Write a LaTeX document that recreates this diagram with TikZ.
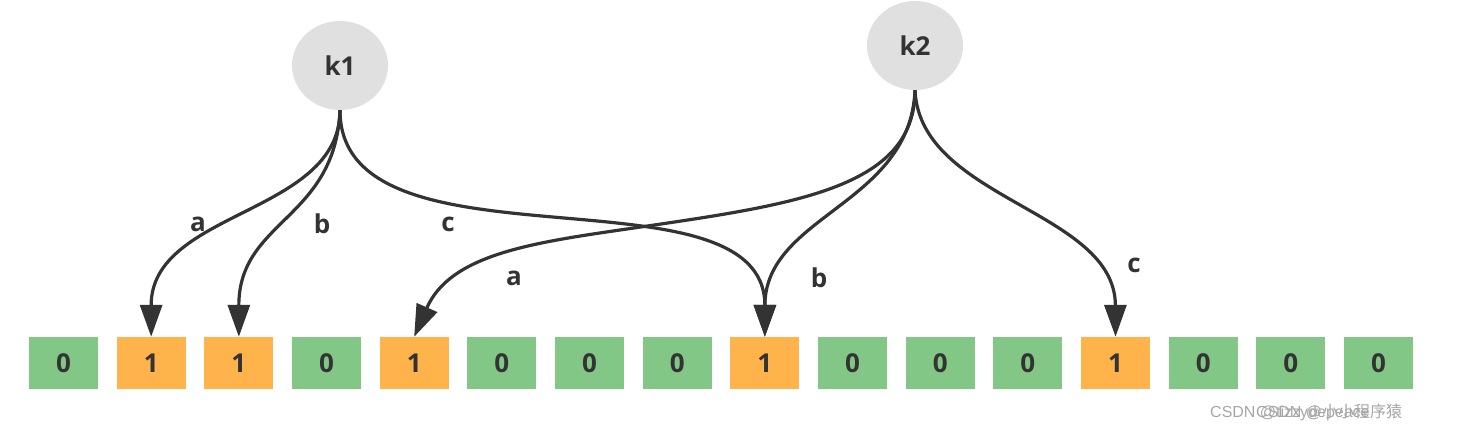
\documentclass[tikz,border=0pt]{standalone}
\usepackage{fontspec}
\setmainfont{Open Sans}
\newfontfamily\wmfont{Liberation Sans}
\newfontfamily\wmcjk{Noto Sans CJK SC}
\usetikzlibrary{shapes.geometric,arrows.meta}
\definecolor{cellgreen}{HTML}{82C785}
\definecolor{cellorange}{HTML}{FFB34A}
\definecolor{keygray}{HTML}{E0E0E0}
\definecolor{ink}{HTML}{333333}
\tikzset{
  keynode/.style={ellipse, fill=keygray, minimum width=96pt, minimum height=89pt, inner sep=0pt,
    text=ink, font=\fontsize{26}{30}\selectfont\bfseries},
  cell/.style={rectangle, minimum width=69pt, minimum height=52pt, inner sep=0pt,
    text=ink, font=\fontsize{26}{30}\selectfont\bfseries},
  zero/.style={cell, fill=cellgreen},
  one/.style={cell, fill=cellorange},
  edgelbl/.style={text=ink, font=\fontsize{26}{30}\selectfont\bfseries, inner sep=0pt},
  edge/.style={draw=ink, line width=3.2pt, -{Triangle[length=32pt,width=22pt]}},
}
\begin{document}
\begin{tikzpicture}[x=1pt,y=-1pt]
\useasboundingbox (0,0) rectangle (1477,431);
\node[keynode] (k1) at (340,65.5) {k1};
\node[keynode] (k2) at (915,45.5) {k2};
\foreach \v [count=\i from 0] in {0,1,1,0,1,0,0,0,1,0,0,0,1,0,0,0}{
  \ifnum\v=1
    \node[one] (b\i) at (63.5+87.67*\i,363) {\v};
  \else
    \node[zero] (b\i) at (63.5+87.67*\i,363) {\v};
  \fi
}
\coordinate (x2a) at (627,229);
\draw[edge] (k1.south) .. controls (340,215) and (151,210) .. (b1.north);
\draw[edge] (k1.south) .. controls (335,220) and (238.8,220) .. (b2.north);
\draw[edge] (k1.south) .. controls (340,280) and (765,160) .. (b8.north);
\draw[edge] (k2.south) .. controls (915,190) and (790,205) .. (x2a)
  .. controls (530,243) and (450,255) .. (b4.north);
\draw[edge] (k2.south) .. controls (910,205) and (765,215) .. (b8.north);
\draw[edge] (k2.south) .. controls (920,200) and (1115,210) .. (b12.north);
\node[edgelbl] (l1a) at (198,224) {a};
\node[edgelbl] (l1b) at (322,224) {b};
\node[edgelbl] (l1c) at (448,224) {c};
\node[edgelbl] (l2a) at (514,278) {a};
\node[edgelbl] (l2b) at (819,278) {b};
\node[edgelbl] (l2c) at (1134,265) {c};
\node[anchor=west, text=gray!70, inner sep=0pt, font=\fontsize{16}{19}\wmfont] (wm) at (1210,412)
  {\rlap{CSDN @tizzydepeace}\hspace{46pt}CSDN @{\wmcjk 小小程序猿}};
\end{tikzpicture}
\end{document}
